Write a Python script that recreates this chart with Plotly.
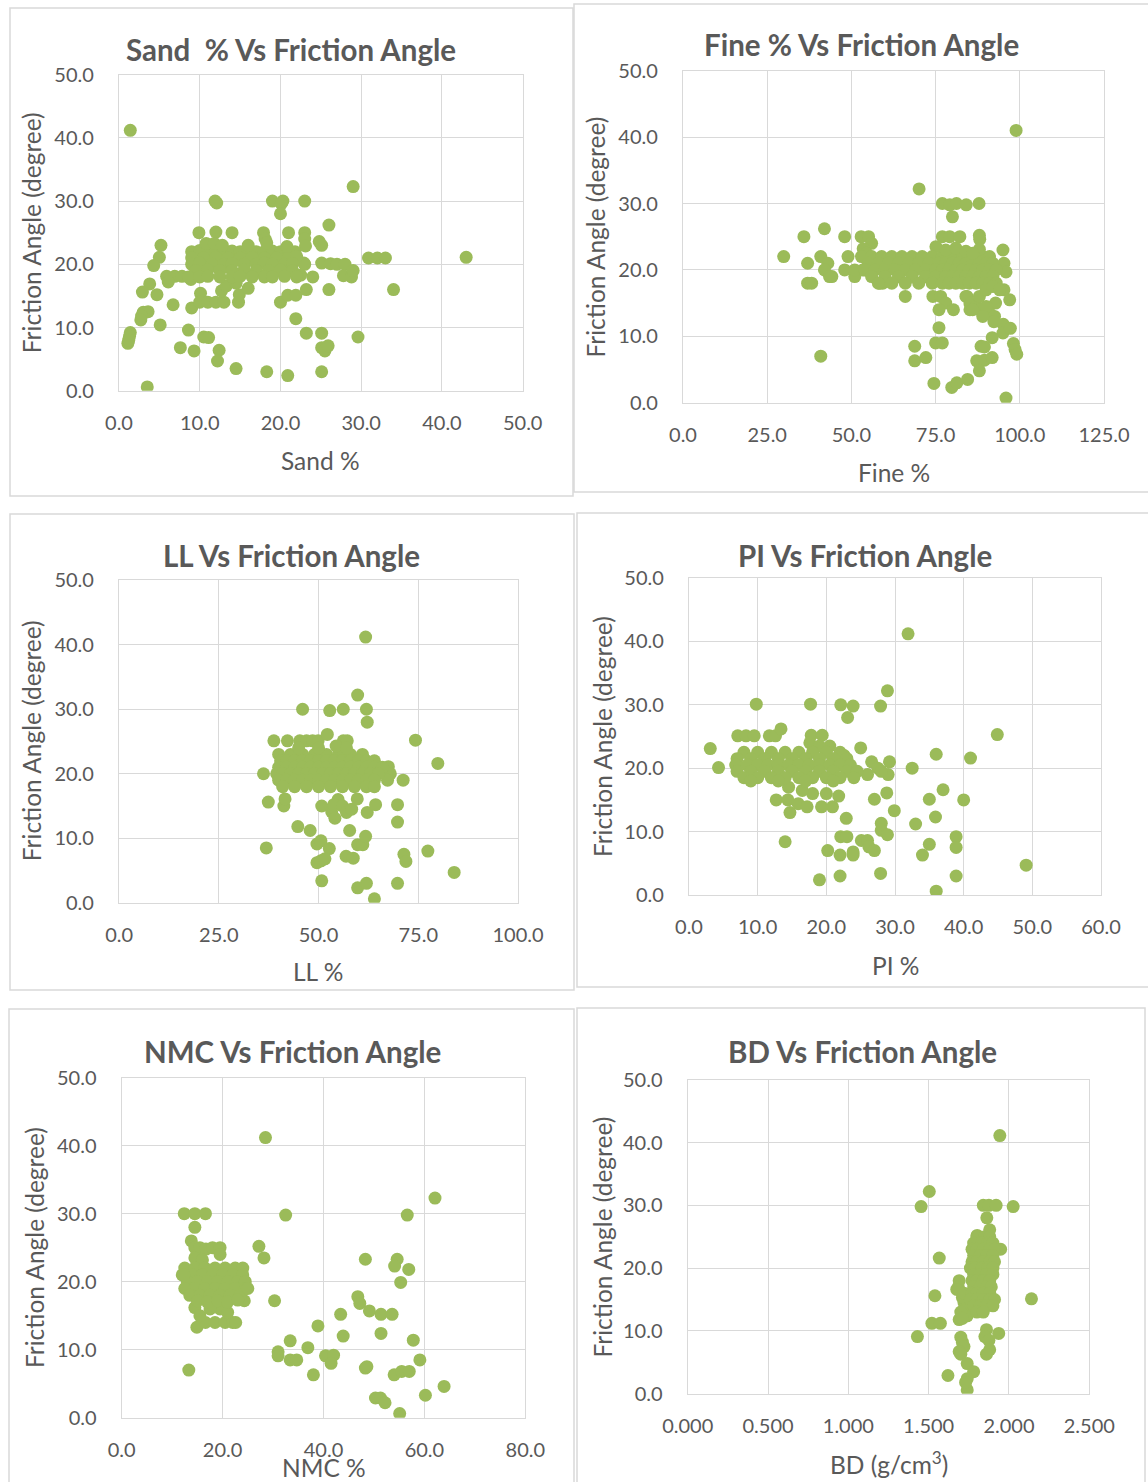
import plotly.graph_objects as go

# ---------------------------------------------------------------------------
# Data: (property value, friction angle in degrees) for each soil sample
# ---------------------------------------------------------------------------
sand_vs_phi = [
    (1.4, 41.2), (29.0, 32.3), (11.9, 30.0), (12.1, 29.7), (19.0, 30.0), (20.3, 30.0),
    (20.1, 29.6), (23.0, 30.0), (20.0, 28.0), (9.9, 25.0), (12.0, 25.1), (14.0, 25.0),
    (17.9, 25.0), (18.1, 24.0), (21.0, 25.0), (23.0, 25.0), (23.0, 24.0), (23.1, 22.9),
    (26.0, 26.2), (24.8, 23.6), (25.1, 23.0), (5.2, 23.0), (5.0, 21.1), (4.3, 19.8),
    (30.9, 21.0), (32.0, 21.0), (33.0, 21.0), (43.0, 21.1), (23.0, 20.0), (25.1, 20.2),
    (26.2, 20.1), (27.0, 20.0), (28.0, 20.0), (27.8, 18.2), (28.8, 18.0), (29.0, 19.0),
    (24.0, 18.0), (22.5, 18.3), (22.9, 20.2), (5.9, 18.1), (6.9, 18.1), (6.1, 17.2),
    (7.8, 18.1), (8.9, 17.6), (3.8, 16.9), (2.9, 15.6), (4.7, 15.2), (6.7, 13.6),
    (9.0, 13.1), (10.1, 15.4), (10.0, 14.0), (11.0, 14.0), (12.0, 14.0), (13.0, 14.0),
    (12.7, 15.8), (13.3, 16.6), (14.8, 14.0), (14.9, 15.2), (16.0, 16.2), (14.5, 17.0),
    (3.0, 12.4), (3.6, 12.5), (2.8, 11.8), (2.7, 11.2), (5.1, 10.4), (8.6, 9.6),
    (1.4, 9.2), (1.3, 8.6), (1.1, 7.5), (1.2, 8.0), (10.5, 8.5), (11.1, 8.4),
    (7.6, 6.8), (9.3, 6.3), (12.4, 6.4), (12.2, 4.7), (14.5, 3.5), (18.3, 3.0),
    (20.9, 2.4), (25.1, 3.0), (3.5, 0.6), (23.2, 9.1), (25.1, 9.1), (29.6, 8.5),
    (25.1, 6.8), (25.5, 6.3), (25.9, 7.1), (21.9, 11.4), (20.0, 14.0), (20.9, 15.1),
    (21.9, 15.1), (23.2, 16.0), (26.0, 16.0), (34.0, 16.0),
    (9.0, 22.0), (10.0, 22.2), (11.0, 22.0), (12.0, 22.3), (13.0, 22.0), (14.0, 22.1),
    (15.0, 22.0), (16.0, 22.2), (17.0, 22.0), (18.0, 22.0), (19.0, 22.1), (20.0, 22.0),
    (21.0, 22.2), (21.8, 22.0), (9.0, 21.0), (10.5, 21.0), (12.0, 21.1), (13.5, 21.0),
    (15.0, 21.0), (16.5, 21.1), (18.0, 21.0), (19.5, 21.0), (21.0, 21.0), (22.0, 21.2),
    (9.0, 20.0), (10.0, 20.2), (11.5, 20.0), (13.0, 20.0), (14.0, 20.1), (15.5, 20.0),
    (17.0, 20.0), (18.0, 20.2), (19.0, 20.0), (20.5, 20.0), (21.5, 20.1), (9.5, 19.0),
    (11.0, 19.1), (12.5, 19.0), (14.0, 19.0), (15.5, 19.1), (17.0, 19.0), (18.5, 19.0),
    (20.0, 19.1), (21.5, 19.0), (8.6, 18.0), (10.0, 18.0), (11.0, 18.1), (12.5, 18.0),
    (14.0, 18.0), (15.0, 18.1), (16.5, 18.0), (18.0, 18.0), (19.0, 18.0), (20.5, 18.1),
    (22.0, 18.0), (10.8, 23.3), (11.8, 23.3), (12.8, 23.0), (18.3, 23.4), (20.8, 22.8),
    (16.0, 23.0),
]

fine_vs_phi = [
    (98.9, 41.0), (70.1, 32.2), (77.0, 30.0), (79.2, 29.8), (81.2, 30.0), (84.1, 29.8),
    (87.9, 30.0), (80.0, 28.0), (35.9, 25.0), (42.0, 26.2), (48.0, 25.0), (52.9, 25.0),
    (55.1, 25.0), (56.0, 24.0), (53.5, 23.2), (54.5, 22.5), (77.0, 25.0), (79.2, 25.0),
    (82.2, 25.0), (88.0, 25.2), (88.1, 24.6), (75.1, 23.5), (95.0, 23.0), (29.9, 22.0),
    (37.0, 21.0), (40.9, 22.0), (43.0, 21.0), (42.0, 20.0), (43.5, 19.0), (44.2, 19.0),
    (37.0, 18.0), (38.2, 18.0), (48.0, 20.0), (49.0, 22.0), (51.0, 19.0), (53.4, 20.0),
    (58.4, 18.0), (59.3, 18.0), (66.0, 16.0), (74.2, 16.0), (76.5, 16.0), (78.0, 15.0),
    (76.0, 14.0), (80.3, 14.0), (84.3, 16.0), (85.2, 14.9), (85.2, 14.0), (92.8, 15.0),
    (91.0, 13.5), (92.5, 13.0), (92.3, 12.2), (95.1, 11.8), (95.0, 10.5), (97.2, 11.2),
    (95.3, 17.0), (97.0, 15.5), (95.3, 21.0), (95.9, 19.7), (76.0, 11.3), (75.0, 9.0),
    (77.0, 9.0), (68.8, 8.5), (68.8, 6.3), (72.1, 6.8), (88.5, 8.5), (89.5, 8.4),
    (91.8, 9.8), (87.2, 6.3), (89.5, 6.4), (91.8, 6.8), (88.0, 4.8), (98.1, 8.9),
    (98.6, 8.0), (99.1, 7.3), (74.5, 2.9), (79.8, 2.3), (81.3, 3.0), (84.5, 3.5),
    (95.9, 0.7), (40.9, 7.0),
    (53.0, 22.0), (56.0, 22.0), (59.0, 22.0), (62.0, 22.0), (65.0, 22.0), (68.0, 22.0),
    (71.0, 22.0), (74.0, 22.0), (77.0, 22.0), (80.0, 22.0), (83.0, 22.0), (86.0, 22.0),
    (89.0, 22.0), (91.0, 22.0), (55.0, 21.0), (58.0, 21.0), (61.0, 21.0), (64.0, 21.0),
    (67.0, 21.0), (70.0, 21.0), (73.0, 21.0), (76.0, 21.0), (78.0, 21.0), (80.0, 21.0),
    (82.0, 21.0), (84.0, 21.0), (86.0, 21.0), (88.0, 21.0), (90.0, 21.0), (92.0, 21.0),
    (51.0, 20.0), (54.0, 20.0), (57.0, 20.0), (60.0, 20.0), (63.0, 20.0), (66.0, 20.0),
    (69.0, 20.0), (72.0, 20.0), (75.0, 20.0), (77.0, 20.0), (79.0, 20.0), (81.0, 20.0),
    (83.0, 20.0), (85.0, 20.0), (87.0, 20.0), (89.0, 20.0), (91.0, 20.0), (93.0, 20.0),
    (56.0, 19.0), (60.0, 19.0), (64.0, 19.0), (68.0, 19.0), (72.0, 19.0), (75.0, 19.0),
    (78.0, 19.0), (80.0, 19.0), (82.0, 19.0), (84.0, 19.0), (86.0, 19.0), (88.0, 19.0),
    (90.0, 19.0), (92.0, 19.0), (58.0, 18.0), (62.0, 18.0), (66.0, 18.0), (70.0, 18.0),
    (74.0, 18.0), (77.0, 18.0), (79.0, 18.0), (81.0, 18.0), (83.0, 18.0), (85.0, 18.0),
    (87.0, 18.0), (89.0, 18.0), (91.0, 18.0), (93.0, 18.0), (78.0, 23.0), (81.0, 23.3),
    (84.0, 22.8), (88.0, 23.1), (86.0, 22.5), (84.0, 16.0), (85.5, 15.0), (87.0, 14.5),
    (88.0, 14.0), (90.0, 14.5), (89.0, 13.0), (86.0, 14.0), (88.0, 16.0), (90.0, 17.0),
    (92.0, 17.5), (94.0, 17.0),
]

ll_vs_phi = [
    (61.8, 41.2), (59.8, 32.2), (46.0, 30.0), (52.8, 29.8), (56.2, 30.0), (62.0, 30.0),
    (62.2, 28.0), (38.8, 25.1), (42.2, 25.1), (45.3, 25.1), (47.0, 25.1), (48.5, 25.1),
    (49.9, 25.1), (52.2, 26.1), (56.2, 25.1), (57.2, 25.1), (74.3, 25.2), (79.9, 21.6),
    (36.2, 20.0), (37.4, 15.6), (41.3, 15.0), (41.6, 16.1), (36.9, 8.5), (44.8, 11.8),
    (47.9, 11.2), (49.6, 9.1), (50.6, 9.6), (52.7, 8.4), (49.6, 6.2), (50.6, 6.5),
    (51.6, 6.8), (50.8, 3.4), (50.8, 15.0), (53.3, 14.1), (54.1, 13.1), (54.9, 16.0),
    (53.8, 15.2), (56.0, 15.0), (57.0, 14.0), (58.3, 14.5), (57.8, 11.2), (56.9, 7.2),
    (58.7, 6.9), (59.8, 9.0), (61.1, 9.0), (61.8, 10.3), (62.2, 14.0), (64.3, 15.2),
    (59.8, 2.3), (62.0, 3.0), (64.0, 0.6), (69.8, 15.2), (69.8, 12.5), (71.2, 19.0),
    (69.8, 3.0), (71.4, 7.5), (71.9, 6.4), (77.4, 8.0), (84.0, 4.7), (59.7, 16.1),
    (67.5, 21.1), (68.0, 20.0), (67.3, 19.0),
    (40.0, 23.0), (43.0, 23.0), (46.0, 23.0), (49.0, 23.0), (52.0, 23.0), (55.0, 23.0),
    (58.0, 23.0), (61.0, 23.0), (40.5, 22.0), (42.0, 22.0), (44.0, 22.0), (46.0, 22.0),
    (48.0, 22.0), (50.0, 22.0), (52.0, 22.0), (54.0, 22.0), (56.0, 22.0), (58.0, 22.0),
    (60.0, 22.0), (62.0, 22.0), (64.0, 22.0), (40.0, 21.0), (42.0, 21.0), (44.0, 21.0),
    (46.0, 21.0), (48.0, 21.0), (50.0, 21.0), (52.0, 21.0), (54.0, 21.0), (56.0, 21.0),
    (58.0, 21.0), (60.0, 21.0), (62.0, 21.0), (64.0, 21.0), (66.0, 21.0), (39.5, 20.0),
    (41.0, 20.0), (43.0, 20.0), (45.0, 20.0), (47.0, 20.0), (49.0, 20.0), (51.0, 20.0),
    (53.0, 20.0), (55.0, 20.0), (57.0, 20.0), (59.0, 20.0), (61.0, 20.0), (63.0, 20.0),
    (65.0, 20.0), (40.0, 19.0), (42.0, 19.0), (44.0, 19.0), (46.0, 19.0), (48.0, 19.0),
    (50.0, 19.0), (52.0, 19.0), (54.0, 19.0), (56.0, 19.0), (58.0, 19.0), (60.0, 19.0),
    (62.0, 19.0), (64.0, 19.0), (41.0, 18.0), (44.0, 18.0), (47.0, 18.0), (50.0, 18.0),
    (53.0, 18.0), (56.0, 18.0), (59.0, 18.0), (62.0, 18.0), (64.0, 18.0), (54.4, 24.3),
    (50.0, 24.0), (57.0, 24.0), (45.0, 24.0),
]

pi_vs_phi = [
    (31.9, 41.2), (28.9, 32.2), (9.8, 30.1), (17.7, 30.1), (22.1, 30.0), (23.9, 29.8),
    (27.9, 29.8), (23.1, 28.0), (3.1, 23.1), (4.3, 20.1), (7.1, 25.1), (8.3, 25.1),
    (9.5, 25.1), (11.7, 25.1), (12.6, 25.1), (13.4, 26.2), (17.8, 25.2), (19.4, 25.2),
    (17.6, 24.0), (20.5, 23.5), (19.0, 23.5), (25.0, 23.2), (22.6, 22.0), (36.0, 22.2),
    (41.0, 21.6), (44.9, 25.3), (32.5, 20.0), (29.0, 19.0), (29.2, 21.0), (26.6, 21.0),
    (27.5, 20.0), (28.0, 19.5), (26.0, 19.0), (37.0, 16.6), (35.0, 15.1), (40.0, 15.0),
    (35.9, 12.3), (33.0, 11.2), (29.9, 13.3), (28.8, 16.1), (27.0, 15.1), (28.0, 11.3),
    (28.0, 10.2), (28.9, 9.5), (22.9, 12.1), (22.1, 9.2), (23.0, 9.2), (25.1, 8.6),
    (26.0, 8.6), (26.2, 7.6), (27.0, 7.0), (23.9, 6.8), (23.9, 6.3), (22.0, 6.3),
    (20.2, 7.0), (14.0, 8.4), (19.0, 2.4), (22.0, 3.0), (27.9, 3.4), (34.0, 6.3),
    (35.0, 8.0), (38.9, 9.2), (38.9, 7.5), (38.9, 3.0), (36.0, 0.6), (49.1, 4.7),
    (14.7, 13.0), (12.7, 15.0), (14.4, 15.0), (15.9, 14.4), (17.2, 13.9), (19.3, 13.9),
    (20.9, 13.9), (18.0, 16.0), (20.0, 16.0), (21.8, 15.6), (16.5, 16.5), (14.5, 17.0),
    (8.0, 22.5), (10.0, 22.5), (12.0, 22.5), (14.0, 22.5), (16.0, 22.5), (18.0, 22.5),
    (20.0, 22.5), (22.0, 22.5), (7.0, 21.5), (9.0, 21.5), (11.0, 21.5), (13.0, 21.5),
    (15.0, 21.5), (17.0, 21.5), (19.0, 21.5), (21.0, 21.5), (23.0, 21.5), (6.8, 20.5),
    (8.5, 20.5), (10.0, 20.5), (11.5, 20.5), (13.0, 20.5), (14.5, 20.5), (16.0, 20.5),
    (17.5, 20.5), (19.0, 20.5), (20.5, 20.5), (22.0, 20.5), (23.5, 20.5), (7.0, 19.5),
    (9.0, 19.5), (11.0, 19.5), (13.0, 19.5), (15.0, 19.5), (17.0, 19.5), (19.0, 19.5),
    (21.0, 19.5), (23.0, 19.5), (24.5, 19.5), (8.0, 18.5), (10.0, 18.5), (12.0, 18.5),
    (14.0, 18.5), (16.0, 18.5), (18.0, 18.5), (20.0, 18.5), (22.0, 18.5), (24.0, 18.5),
    (9.0, 18.0), (13.0, 18.0), (17.0, 18.0), (21.0, 18.0),
]

nmc_vs_phi = [
    (28.5, 41.2), (62.1, 32.3), (12.4, 30.0), (14.5, 30.0), (16.6, 30.0), (14.5, 28.0),
    (32.5, 29.8), (56.6, 29.8), (27.2, 25.2), (28.2, 23.5), (13.8, 26.0), (14.5, 25.0),
    (15.5, 25.0), (16.7, 24.8), (18.0, 25.0), (19.5, 25.0), (19.5, 24.0), (14.5, 23.5),
    (16.0, 23.2), (48.3, 23.3), (54.6, 23.3), (54.1, 22.3), (56.9, 21.8), (55.3, 19.9),
    (24.3, 17.2), (24.3, 19.0), (30.3, 17.2), (46.8, 17.8), (47.2, 16.8), (49.1, 15.7),
    (43.4, 15.2), (51.4, 15.2), (53.6, 15.2), (51.4, 12.4), (43.9, 12.0), (38.9, 13.5),
    (33.4, 11.3), (36.9, 10.3), (31.0, 9.7), (31.0, 9.1), (33.4, 8.5), (34.7, 8.5),
    (38.0, 6.3), (40.4, 9.1), (42.0, 9.2), (41.5, 8.0), (48.3, 7.3), (48.6, 7.5),
    (57.8, 11.4), (59.1, 8.5), (54.0, 6.3), (55.5, 6.8), (57.0, 6.8), (50.3, 2.9),
    (51.3, 2.9), (52.2, 2.2), (55.1, 0.6), (60.2, 3.3), (63.9, 4.6), (13.3, 7.0),
    (14.5, 16.2), (14.9, 13.3), (16.6, 14.0), (19.5, 16.0), (18.5, 14.0), (20.5, 14.0),
    (22.0, 14.0), (22.6, 14.0), (15.5, 15.0), (17.5, 16.0), (21.0, 15.5),
    (12.5, 22.0), (14.5, 22.0), (16.5, 22.0), (18.5, 22.0), (20.5, 22.0), (22.5, 22.0),
    (24.0, 22.0), (12.0, 21.0), (14.0, 21.0), (16.0, 21.0), (18.0, 21.0), (20.0, 21.0),
    (22.0, 21.0), (24.0, 21.0), (13.0, 20.0), (15.0, 20.0), (17.0, 20.0), (19.0, 20.0),
    (21.0, 20.0), (23.0, 20.0), (24.5, 20.0), (12.5, 19.0), (14.5, 19.0), (16.5, 19.0),
    (18.5, 19.0), (20.5, 19.0), (22.5, 19.0), (24.5, 19.0), (13.5, 18.0), (15.5, 18.0),
    (17.5, 18.0), (19.5, 18.0), (21.5, 18.0), (23.5, 18.0), (12.3, 21.0), (25.0, 19.0),
    (15.0, 17.2), (17.0, 17.0), (19.0, 17.2), (21.0, 17.0), (23.0, 17.3),
]

bd_vs_phi = [
    (1.943, 41.1), (1.504, 32.2), (1.453, 29.8), (2.026, 29.8), (1.840, 30.0), (1.875, 30.0),
    (1.920, 30.0), (1.862, 28.0), (1.880, 26.1), (1.802, 25.2), (1.566, 21.6), (1.948, 23.0),
    (1.690, 18.0), (1.685, 17.0), (1.675, 16.6), (1.539, 15.6), (2.140, 15.1), (1.520, 11.2),
    (1.573, 11.2), (1.690, 11.8), (1.430, 9.1), (1.700, 9.0), (1.710, 8.2), (1.720, 7.5),
    (1.690, 6.7), (1.700, 6.3), (1.740, 4.8), (1.620, 2.9), (1.780, 3.5), (1.740, 2.4),
    (1.740, 0.6), (1.730, 1.8), (1.860, 10.2), (1.850, 9.1), (1.936, 9.6), (1.875, 8.5),
    (1.880, 7.0), (1.860, 6.3), (1.720, 14.5), (1.730, 13.4), (1.740, 12.4), (1.710, 15.3),
    (1.720, 16.0), (1.700, 13.0), (1.710, 12.0),
    (1.80, 25.0), (1.85, 25.0), (1.88, 25.0), (1.78, 24.0), (1.83, 24.0), (1.87, 24.0),
    (1.90, 24.0), (1.77, 23.0), (1.80, 23.0), (1.84, 23.0), (1.88, 23.0), (1.91, 23.0),
    (1.78, 22.0), (1.82, 22.0), (1.86, 22.0), (1.90, 22.0), (1.77, 21.0), (1.80, 21.0),
    (1.84, 21.0), (1.88, 21.0), (1.91, 21.0), (1.76, 20.0), (1.79, 20.0), (1.83, 20.0),
    (1.87, 20.0), (1.90, 20.0), (1.78, 19.0), (1.82, 19.0), (1.86, 19.0), (1.90, 19.0),
    (1.77, 18.0), (1.80, 18.0), (1.84, 18.0), (1.88, 18.0), (1.78, 17.0), (1.82, 17.0),
    (1.86, 17.0), (1.89, 17.0), (1.77, 16.0), (1.80, 16.0), (1.84, 16.0), (1.88, 16.0),
    (1.76, 15.0), (1.80, 15.0), (1.84, 15.0), (1.88, 15.0), (1.91, 15.0), (1.78, 14.0),
    (1.82, 14.0), (1.86, 14.0), (1.90, 14.0), (1.80, 13.0), (1.84, 13.0),
]

chart_titles = [
    "Sand\u00a0 % Vs Friction Angle",
    "Fine % Vs Friction Angle",
    "LL Vs Friction Angle",
    "PI Vs Friction Angle",
    "NMC Vs Friction Angle",
    "BD Vs Friction Angle",
]
x_titles = ["Sand %", "Fine %", "LL %", "PI %", "NMC %", "BD (g/cm<sup>3</sup>)"]
y_title = "Friction Angle (degree)"
x_ranges = [(0, 50), (0, 125), (0, 100), (0, 60), (0, 80), (0, 2.5)]
x_steps = [10, 25, 25, 10, 20, 0.5]
x_formats = [".1f", ".1f", ".1f", ".1f", ".1f", ".3f"]
series = [sand_vs_phi, fine_vs_phi, ll_vs_phi, pi_vs_phi, nmc_vs_phi, bd_vs_phi]

# ---------------------------------------------------------------------------
# Page geometry (pixels from the top-left corner)
# ---------------------------------------------------------------------------
W, H = 1148, 1482
GREEN = "#9BBB59"
TEXT = "#595959"
GRID = "#D9D9D9"
FONT = "Lato, 'Open Sans', sans-serif"

plot_boxes = [  # left, top, right, bottom of each plot area
    (119.0, 74.7, 522.7, 390.7),
    (683.0, 70.7, 1104.0, 402.7),
    (119.1, 580.3, 518.0, 902.7),
    (689.0, 578.0, 1101.0, 895.0),
    (121.7, 1077.7, 525.3, 1417.7),
    (687.7, 1079.7, 1089.3, 1393.7),
]
frames = [  # outer chart frames
    (10, 8, 573, 496),
    (574, 4, 1152, 492),
    (10, 514, 574, 990),
    (577, 513, 1152, 987),
    (9, 1009, 574, 1490),
    (577, 1008, 1145, 1490),
]
title_pos = [(290.8, 49.3), (861, 44.3), (291.7, 555.7), (864.9, 555.7), (292.8, 1051), (862, 1051)]
ytitle_pos = [(31.4, 232.8), (595.8, 236.7), (31.4, 740.8), (602.4, 736.7), (34, 1248), (601.5, 1237)]
xtitle_pos = [(320.8, 460), (893.6, 472.7), (318, 971), (895, 965), (323.7, 1467.7), (888.5, 1463)]


def px(x):
    return x / W


def py(y):
    return 1 - y / H


fig = go.Figure()
layout = dict(
    template="none",
    width=W, height=H, autosize=False,
    margin=dict(l=0, r=0, t=0, b=0, pad=0, autoexpand=False),
    paper_bgcolor="white", plot_bgcolor="white", showlegend=False,
    font=dict(family=FONT, color=TEXT, size=20),
)
annotations = []
shapes = []

for i in range(6):
    n = i + 1
    sfx = "" if n == 1 else str(n)
    pts = series[i]
    fig.add_trace(go.Scatter(
        x=[p[0] for p in pts], y=[p[1] for p in pts], mode="markers",
        marker=dict(size=13, color=GREEN, line=dict(width=0)),
        xaxis="x" + sfx, yaxis="y" + sfx, hoverinfo="x+y",
    ))
    l, t, r, b = plot_boxes[i]
    common = dict(
        showgrid=True, gridcolor=GRID, gridwidth=1.3, zeroline=False,
        showline=True, linecolor=GRID, linewidth=1.3, mirror=True,
        ticks="", tickfont=dict(family=FONT, size=20, color=TEXT),
        fixedrange=True, automargin=False,
    )
    layout["xaxis" + sfx] = dict(
        common, domain=[px(l), px(r)], anchor="y" + sfx,
        range=list(x_ranges[i]), dtick=x_steps[i], tick0=0,
        tickformat=x_formats[i], ticklabelstandoff=14,
    )
    layout["yaxis" + sfx] = dict(
        common, domain=[py(b), py(t)], anchor="x" + sfx,
        range=[0, 50], dtick=10, tick0=0, tickformat=".1f",
        ticklabelstandoff=20,
    )
    annotations.append(dict(
        text="<b>" + chart_titles[i] + "</b>", x=px(title_pos[i][0]), y=py(title_pos[i][1]),
        xref="paper", yref="paper", xanchor="center", yanchor="middle", showarrow=False,
        font=dict(family=FONT, size=29.5, color=TEXT),
    ))
    annotations.append(dict(
        text=y_title, x=px(ytitle_pos[i][0]), y=py(ytitle_pos[i][1]), textangle=-90,
        xref="paper", yref="paper", xanchor="center", yanchor="middle", showarrow=False,
        font=dict(family=FONT, size=24.5, color=TEXT),
    ))
    annotations.append(dict(
        text=x_titles[i], x=px(xtitle_pos[i][0]), y=py(xtitle_pos[i][1]),
        xref="paper", yref="paper", xanchor="center", yanchor="middle", showarrow=False,
        font=dict(family=FONT, size=24.5, color=TEXT),
    ))
    fl, ft, fr, fb = frames[i]
    shapes.append(dict(
        type="rect", xref="paper", yref="paper",
        x0=px(fl), x1=px(fr), y0=py(fb), y1=py(ft),
        line=dict(color=GRID, width=1.5), fillcolor="rgba(0,0,0,0)", layer="below",
    ))

layout["annotations"] = annotations
layout["shapes"] = shapes
fig.update_layout(**layout)
fig.write_html("out.html", config={"responsive": False})
